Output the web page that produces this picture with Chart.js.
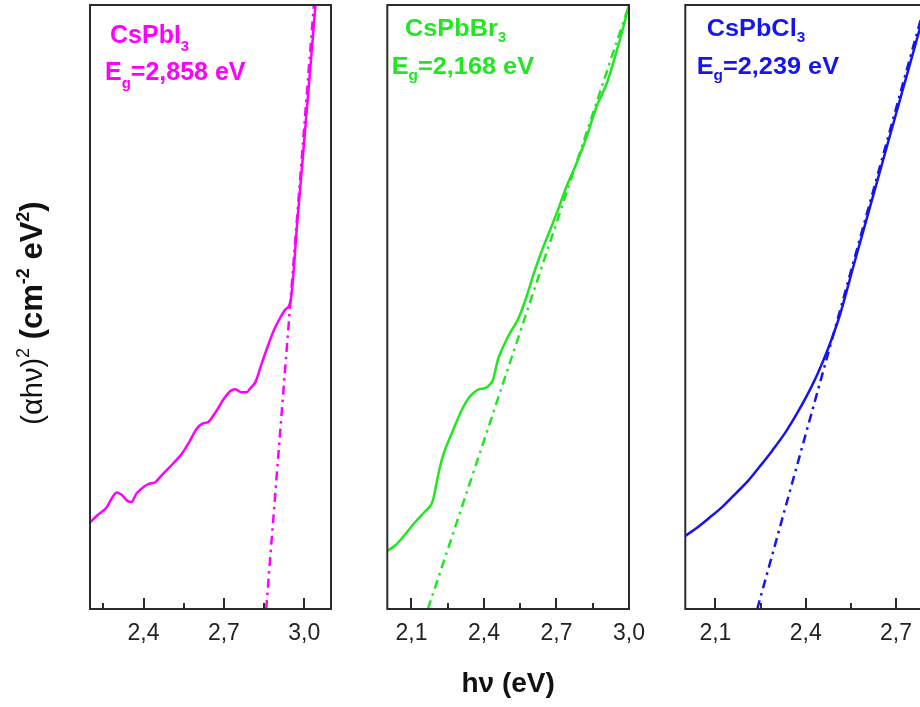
<!DOCTYPE html>
<html>
<head>
<meta charset="utf-8">
<script src="https://cdn.jsdelivr.net/npm/chart.js@4.4.1/dist/chart.umd.min.js"></script>
<style>
  html, body { margin: 0; padding: 0; background: #fff; width: 920px; height: 707px; overflow: hidden; position: relative; }
  canvas { position: absolute; top: 0; }
</style>
</head>
<body>
<canvas id="panelI" width="345" height="707" style="left:0px"></canvas>
<canvas id="panelBr" width="325" height="707" style="left:340px"></canvas>
<canvas id="panelCl" width="345" height="707" style="left:660px"></canvas>
<script>
// Tauc plots: photon energy hν (eV) against (αhν)² in arbitrary units (0–100)
const iEnergy  = [2.200, 2.230, 2.262, 2.285, 2.300, 2.318, 2.340, 2.354, 2.375, 2.400, 2.420, 2.444, 2.465, 2.487, 2.515, 2.543, 2.570, 2.599, 2.620, 2.643, 2.660, 2.674, 2.700, 2.724, 2.743, 2.765, 2.784, 2.800, 2.818, 2.840, 2.868, 2.885, 2.905, 2.930, 2.949, 2.975, 3.000, 3.021, 3.042];
const iSignal  = [14.3, 15.6, 16.8, 18.6, 19.3, 18.9, 17.9, 17.7, 19.2, 20.2, 20.7, 21.0, 22.0, 23.0, 24.3, 25.7, 27.6, 29.9, 30.7, 31.0, 32.0, 32.9, 34.8, 36.1, 36.4, 35.9, 35.9, 36.6, 37.6, 40.5, 44.0, 46.0, 47.8, 49.6, 51.0, 64.5, 77.5, 88.6, 100];

const brEnergy = [2.000, 2.035, 2.077, 2.105, 2.125, 2.155, 2.183, 2.192, 2.201, 2.215, 2.229, 2.250, 2.270, 2.290, 2.305, 2.322, 2.340, 2.360, 2.381, 2.400, 2.412, 2.425, 2.437, 2.447, 2.457, 2.475, 2.492, 2.512, 2.540, 2.572, 2.610, 2.644, 2.679, 2.710, 2.741, 2.783, 2.825, 2.866, 2.908, 2.942, 2.977, 3.000];
const brSignal = [9.6, 10.6, 12.5, 13.9, 14.8, 16.1, 17.4, 18.5, 20.3, 23.0, 25.2, 27.5, 29.4, 31.3, 32.7, 34.0, 35.1, 35.9, 36.4, 36.5, 36.7, 37.2, 37.9, 39.5, 41.2, 43.0, 44.5, 46.0, 47.9, 51.2, 56.0, 59.8, 63.3, 66.5, 69.9, 73.8, 78.2, 83.2, 87.0, 91.4, 96.4, 100];

const clEnergy = [2.000, 2.040, 2.080, 2.125, 2.169, 2.210, 2.246, 2.290, 2.336, 2.375, 2.413, 2.440, 2.468, 2.490, 2.512, 2.560, 2.620, 2.680, 2.740, 2.800, 2.810];
const clSignal = [12.1, 13.5, 15.1, 17.0, 19.2, 21.3, 23.5, 26.3, 29.5, 32.7, 36.2, 39.0, 42.3, 45.2, 48.4, 57.0, 67.7, 78.4, 89.1, 99.8, 101.6];

// Linear fits of the absorption edge: x-intercept is the band gap
const gapEnergy    = [2.858, 2.168, 2.239];
const fitTopEnergy = [3.036, 3.000, 2.7955];
const fitSignal    = [0, 100];

// Compound names (formula body, subscript)
const formulaBody = ['CsPbI', 'CsPbBr', 'CsPbCl'];
const formulaSub  = ['3', '3', '3'];

// Axis ranges and tick values
const xMin = [2.2, 2.0, 2.0];
const xMax = [3.1, 3.0, 3.0];
const majorTicks = [[2.4, 2.7, 3.0], [2.1, 2.4, 2.7, 3.0], [2.1, 2.4, 2.7, 3.0]];
const minorTicks = [[2.25, 2.55, 2.85], [2.25, 2.55, 2.85], [2.25, 2.55, 2.85]];

const FONT = "'Liberation Sans', Arial, Helvetica, sans-serif";
const fmt = v => v.toFixed(1).replace('.', ',');

function drawRich(ctx, x, y, parts, sx, color) {
  ctx.save();
  ctx.translate(x, y);
  ctx.scale(sx, 1);
  ctx.fillStyle = color;
  ctx.textAlign = 'left';
  ctx.textBaseline = 'alphabetic';
  let cx = 0;
  for (const p of parts) {
    ctx.font = p.font;
    ctx.fillText(p.text, cx, p.dy || 0);
    cx += ctx.measureText(p.text).width;
  }
  ctx.restore();
}

// Box around the plot area plus inward major/minor ticks on the energy axis
const framePlugin = {
  id: 'frame',
  afterDatasetsDraw(chart, args, opts) {
    const { ctx, chartArea: a, scales: { x } } = chart;
    ctx.save();
    ctx.strokeStyle = '#2b2b2b';
    ctx.lineWidth = 2;
    ctx.strokeRect(a.left, a.top, a.right - a.left, a.bottom - a.top);
    ctx.beginPath();
    for (const v of opts.major) {
      const px = Math.round(x.getPixelForValue(v));
      ctx.moveTo(px, a.bottom);
      ctx.lineTo(px, a.bottom - 11);
    }
    for (const v of opts.minor) {
      const px = Math.round(x.getPixelForValue(v));
      ctx.moveTo(px, a.bottom);
      ctx.lineTo(px, a.bottom - 6);
    }
    ctx.stroke();
    ctx.restore();
  }
};

// Compound name and band-gap value in the upper left corner of each panel
const labelPlugin = {
  id: 'panelLabel',
  afterDraw(chart, args, o) {
    const { ctx, chartArea: a } = chart;
    const big = `bold ${o.size}px ${FONT}`;
    const small = `bold ${Math.round(o.size * 0.6)}px ${FONT}`;
    const subDy = o.size * 0.3;
    drawRich(ctx, a.left + o.nameDx, a.top + o.nameDy, [
      { text: formulaBody[o.k], font: big },
      { text: formulaSub[o.k], font: small, dy: subDy }
    ], o.sx, o.color);
    drawRich(ctx, a.left + o.gapDx, a.top + o.gapDy, [
      { text: 'E', font: big },
      { text: 'g', font: small, dy: subDy },
      { text: '=' + gapEnergy[o.k].toFixed(3).replace('.', ',') + ' eV', font: big }
    ], o.sx, o.color);
  }
};

// Vertical quantity label, drawn once beside the first panel
const yTitlePlugin = {
  id: 'yTitle',
  afterDraw(chart) {
    const { ctx } = chart;
    const parts = [
      { text: '(\u03b1h\u03bd)', font: `29px ${FONT}` },
      { text: '2', font: `18px ${FONT}`, dy: -13 },
      { text: ' (cm', font: `bold 31px ${FONT}` },
      { text: '-2', font: `bold 18px ${FONT}`, dy: -13 },
      { text: ' eV', font: `bold 31px ${FONT}` },
      { text: '2', font: `bold 18px ${FONT}`, dy: -13 },
      { text: ')', font: `bold 31px ${FONT}` }
    ];
    let total = 0;
    for (const p of parts) { ctx.font = p.font; total += ctx.measureText(p.text).width; }
    ctx.save();
    ctx.translate(42, 313);
    ctx.rotate(-Math.PI / 2);
    drawRich(ctx, -total / 2, 0, parts, 1, '#111');
    ctx.restore();
  }
};

function makePanel(canvasId, k, energy, signal, color, padL, padR, label, extraPlugins, xTitle) {
  const curve = energy.map((e, i) => ({ x: e, y: signal[i] }));
  const fit = [{ x: gapEnergy[k], y: fitSignal[0] }, { x: fitTopEnergy[k], y: fitSignal[1] }];
  return new Chart(document.getElementById(canvasId), {
    type: 'line',
    data: {
      datasets: [
        { data: curve, borderColor: color, borderWidth: 2.5, pointRadius: 0, fill: false, cubicInterpolationMode: 'monotone' },
        { data: fit, borderColor: color, borderWidth: 2.5, pointRadius: 0, fill: false, borderDash: [9, 5, 2.5, 5] }
      ]
    },
    options: {
      responsive: false,
      animation: false,
      events: [],
      layout: { padding: { left: padL, right: padR, top: 5, bottom: 0 } },
      plugins: {
        legend: { display: false },
        tooltip: { enabled: false },
        frame: { major: majorTicks[k], minor: minorTicks[k] },
        panelLabel: Object.assign({ k, color }, label)
      },
      scales: {
        x: {
          type: 'linear',
          position: 'bottom',
          min: xMin[k],
          max: xMax[k],
          grid: { display: false, drawTicks: false },
          border: { display: false },
          afterBuildTicks: s => { s.ticks = majorTicks[k].map(v => ({ value: v })); },
          afterFit: s => { s.height = 98; s.paddingLeft = 0; s.paddingRight = 0; },
          ticks: {
            padding: 11,
            autoSkip: false,
            maxRotation: 0,
            color: '#222',
            font: { family: FONT, size: 23 },
            callback: v => fmt(v)
          },
          title: xTitle || { display: false }
        },
        y: { type: 'linear', min: 0, max: 100, display: false }
      }
    },
    plugins: [framePlugin, labelPlugin].concat(extraPlugins)
  });
}

makePanel('panelI', 0, iEnergy, iSignal, '#ff00ff', 90, 14,
  { size: 25, sx: 1, nameDx: 20, nameDy: 38.3, gapDx: 15, gapDy: 75 },
  [yTitlePlugin]);

makePanel('panelBr', 1, brEnergy, brSignal, '#22e622', 47.3, 36,
  { size: 23, sx: 1.1, nameDx: 17.7, nameDy: 30.5, gapDx: 4.4, gapDy: 68.5 },
  [],
  { display: true, text: 'h\u03bd (eV)', color: '#111', font: { family: FONT, size: 28, weight: 'bold' }, padding: { top: 0, bottom: 6 } });

makePanel('panelCl', 2, clEnergy, clSignal, '#1515f0', 25.3, 18.7,
  { size: 23, sx: 1.1, nameDx: 21.4, nameDy: 30.5, gapDx: 11.4, gapDy: 68.5 },
  []);
</script>
</body>
</html>
